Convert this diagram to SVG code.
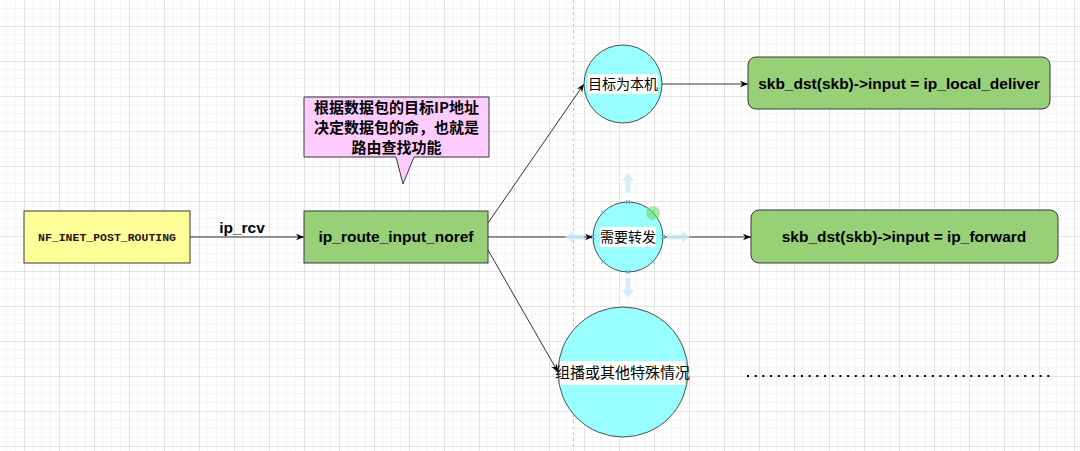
<svg xmlns="http://www.w3.org/2000/svg" width="1080" height="451" viewBox="0 0 1080 451">
<style>
.box{stroke:#36393d;stroke-width:1}
.yellow{fill:#ffff99}
.green{fill:#97d077}
.circ{fill:#99ffff;stroke:#4d4d4d;stroke-width:1}
.lbl{font-family:"Liberation Sans",Arial,sans-serif;font-weight:bold;font-size:15.5px;fill:#000;text-anchor:middle}
.cjk{font-family:"Noto Sans CJK SC","Liberation Sans",sans-serif;fill:#000;text-anchor:middle}
.band{fill:#ffffff}
.conn{fill:none;stroke:#333333;stroke-width:1}
.hover{fill:#cfe9f8;opacity:0.85}
.mark{stroke:#3fb1ee;stroke-width:1;fill:none}
</style>
<defs>
<pattern id="grid" x="24" y="26" width="35" height="35" patternUnits="userSpaceOnUse">
<path d="M8.75,0V35M17.5,0V35M26.25,0V35M0,8.75H35M0,17.5H35M0,26.25H35" stroke="#f4f4f4" stroke-width="1" fill="none"/>
<path d="M0.5,0V35M0,0.5H35" stroke="#e4e4e4" stroke-width="1" fill="none"/>
</pattern>
<marker id="arr" viewBox="0 0 10 10" refX="10" refY="5" markerWidth="8" markerHeight="8" markerUnits="userSpaceOnUse" orient="auto">
<path d="M0,1 L10,5 L0,9 L3,5 Z" fill="#000"/>
</marker>
</defs>
<rect width="1080" height="451" fill="#ffffff"/>
<rect width="1080" height="451" fill="url(#grid)"/>
<line x1="573.5" y1="0" x2="573.5" y2="451" stroke="#c4c4c4" stroke-width="1" stroke-dasharray="3 3"/>

<g id="connectors">
<path class="conn" d="M190,237 L304,237" marker-end="url(#arr)"/>
<path class="conn" d="M488,223 L584,84" marker-end="url(#arr)"/>
<path class="conn" d="M488,237 L593,237" marker-end="url(#arr)"/>
<path class="conn" d="M488,250 L558,372" marker-end="url(#arr)"/>
<path class="conn" d="M662,84 L748,84" marker-end="url(#arr)"/>
<path class="conn" d="M663,237 L751,237" marker-end="url(#arr)"/>
<text class="lbl" x="242" y="233">ip_rcv</text>
</g>

<g id="node-nf-inet">
<rect class="box yellow" x="24" y="211" width="166" height="52"/>
<text x="107" y="240.5" font-family="'Liberation Mono','Courier New',monospace" font-weight="bold" font-size="11.5" fill="#2a1414" text-anchor="middle">NF_INET_POST_ROUTING</text>
</g>

<g id="node-ip-route">
<rect class="box green" x="304" y="211" width="184" height="52"/>
<text class="lbl" x="396" y="242">ip_route_input_noref</text>
</g>

<g id="node-callout">
<path class="box" fill="#ffccff" d="M304,97 H489 V157 H414 L403,184 L396,157 H304 Z"/>
<text class="cjk" font-weight="bold" font-size="15"><tspan x="396.5" y="112.5">根据数据包的目标IP地址</tspan><tspan x="396.5" y="132.5">决定数据包的命，也就是</tspan><tspan x="396.5" y="152.5">路由查找功能</tspan></text>
</g>

<g id="node-local">
<circle class="circ" cx="623" cy="84" r="39"/>
<rect class="band" x="588" y="74" width="70" height="20"/>
<text class="cjk" font-size="14" x="623" y="89">目标为本机</text>
</g>

<g id="node-forward">
<path class="hover" d="M628,173 L634,181 L630.5,181 L630.5,193 L625.5,193 L625.5,181 L622,181 Z"/>
<path class="hover" d="M628,298 L634,290 L630.5,290 L630.5,278 L625.5,278 L625.5,290 L622,290 Z"/>
<path class="hover" d="M565,237 L573,231 L573,234.5 L584,234.5 L584,239.5 L573,239.5 L573,243 Z"/>
<path class="hover" d="M690,237 L682,231 L682,234.5 L667,234.5 L667,239.5 L682,239.5 L682,243 Z"/>
<circle class="circ" cx="628" cy="237" r="35"/>
<rect class="band" x="600" y="227" width="56" height="20"/>
<text class="cjk" font-size="14" x="628" y="242">需要转发</text>
<path class="mark" d="M661,235 l4,4 m0,-4 l-4,4 M650.7,210.3 l4,4 m0,-4 l-4,4 M626,200 l4,4 m0,-4 l-4,4 M601.3,210.3 l4,4 m0,-4 l-4,4 M591,235 l4,4 m0,-4 l-4,4 M601.3,259.7 l4,4 m0,-4 l-4,4 M626,270 l4,4 m0,-4 l-4,4 M650.7,259.7 l4,4 m0,-4 l-4,4"/>
<circle cx="653" cy="213" r="7" fill="#66dd55" opacity="0.55"/>
</g>

<g id="node-multicast">
<circle class="circ" cx="623" cy="372" r="65"/>
<rect class="band" x="560" y="361" width="125" height="24"/>
<text class="cjk" font-size="15" x="622.5" y="378">组播或其他特殊情况</text>
</g>

<g id="node-local-deliver">
<rect class="box green" x="748" y="57" width="302" height="52" rx="8" ry="8"/>
<text class="lbl" x="899" y="88.5">skb_dst(skb)-&gt;input = ip_local_deliver</text>
</g>

<g id="node-ip-forward">
<rect class="box green" x="751" y="210" width="307" height="53" rx="8" ry="8"/>
<text class="lbl" x="904" y="242">skb_dst(skb)-&gt;input = ip_forward</text>
</g>

<g id="dotted">
<line x1="747" y1="376" x2="1054" y2="376" stroke="#000" stroke-width="2" stroke-dasharray="2 5.7"/>
</g>
</svg>
